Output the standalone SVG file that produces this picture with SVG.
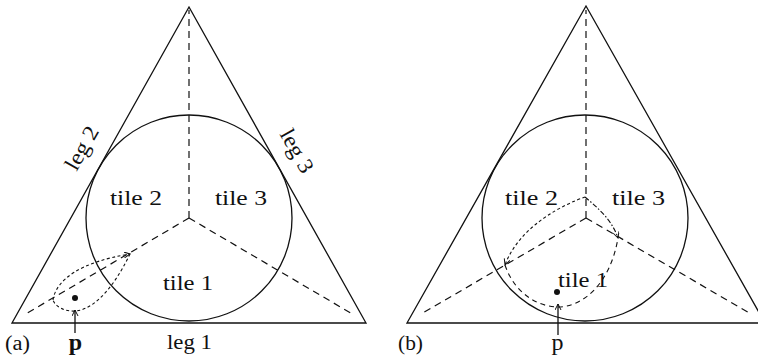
<svg xmlns="http://www.w3.org/2000/svg" width="758" height="363" viewBox="0 0 758 363">
<style>
.solid{fill:none;stroke:#111;stroke-width:1.3}
.rad{fill:none;stroke:#111;stroke-width:1.2;stroke-dasharray:7 5}
.fine{fill:none;stroke:#111;stroke-width:1.1;stroke-dasharray:3 2.5}
.dd{fill:none;stroke:#111;stroke-width:1.1;stroke-dasharray:5 2 1.5 2}
.med{fill:none;stroke:#111;stroke-width:1.1;stroke-dasharray:5 4}
.t{font-family:"Liberation Serif","Times New Roman",serif;font-size:22px;fill:#111}
.s{font-family:"Liberation Serif","Times New Roman",serif;font-size:20px;fill:#111}
.pb{font-family:"Liberation Serif","Times New Roman",serif;font-size:24px;font-weight:bold;fill:#111}
.pr{font-family:"Liberation Serif","Times New Roman",serif;font-size:24px;fill:#111}
</style>
<defs>
<marker id="arr" markerWidth="8" markerHeight="8" refX="6" refY="3" orient="auto" markerUnits="userSpaceOnUse">
<path d="M0,0 L6,3 L0,6" fill="none" stroke="#111" stroke-width="1"/>
</marker>
</defs>
<g id="panel-a">
<g id="a-triangle"><path class="solid" d="M12,323 L189,7 L366,323 Z"/></g>
<g id="a-circle"><circle class="solid" cx="189" cy="218" r="103"/></g>
<g id="a-tiles">
<path class="rad" d="M189,218 L189,10"/>
<path class="rad" d="M189,218 L24,315"/>
<path class="rad" d="M189,218 L354,315"/>
</g>
<g id="a-loop">
<path class="fine" d="M53,300 C56,280 80,262 130,254" marker-end="url(#arr)"/>
<path class="fine" d="M130,254 C120,275 100,308 76,311 C64,312 55,306 53,300"/>
</g>
<g id="a-p">
<circle cx="75" cy="298" r="3" fill="#111"/>
<path class="solid" d="M75,333 L75,310" marker-end="url(#arr)"/>
<text class="pb" x="75.5" y="350" text-anchor="middle">p</text>
</g>
<g id="a-labels">
<text class="t" x="136" y="205" text-anchor="middle" textLength="52" lengthAdjust="spacingAndGlyphs">tile 2</text>
<text class="t" x="241" y="205" text-anchor="middle" textLength="52" lengthAdjust="spacingAndGlyphs">tile 3</text>
<text class="t" x="188" y="290" text-anchor="middle" textLength="50" lengthAdjust="spacingAndGlyphs">tile 1</text>
<text class="t" x="189.5" y="349" text-anchor="middle" textLength="45" lengthAdjust="spacingAndGlyphs">leg 1</text>
<text class="t" transform="translate(88,151.5) rotate(-60.75)" text-anchor="middle" textLength="47" lengthAdjust="spacingAndGlyphs">leg 2</text>
<text class="t" transform="translate(290.7,154.5) rotate(60.75)" text-anchor="middle" textLength="47" lengthAdjust="spacingAndGlyphs">leg 3</text>
<text class="s" x="17.5" y="350" text-anchor="middle" textLength="25" lengthAdjust="spacingAndGlyphs">(a)</text>
</g>
</g>
<g id="panel-b">
<g id="b-triangle"><path class="solid" d="M407,323 L586,6 L765,323 Z"/></g>
<g id="b-circle"><circle class="solid" cx="585" cy="218" r="103"/></g>
<g id="b-tiles">
<path class="rad" d="M586,218 L586,10"/>
<path class="rad" d="M586,218 L421,314"/>
<path class="rad" d="M586,218 L751,314"/>
</g>
<g id="b-loop">
<path class="fine" d="M585,197 C565,204 520,225 505,265" marker-end="url(#arr)"/>
<path class="dd" d="M585,197 C598,208 612,220 618,238" marker-end="url(#arr)"/>
<path class="med" d="M505,265 C515,295 540,307 558,307 C582,307 610,285 618,238"/>
</g>
<g id="b-p">
<circle cx="557" cy="292" r="3" fill="#111"/>
<path class="solid" d="M558,335 L558,304" marker-end="url(#arr)"/>
<text class="pr" x="557.5" y="350" text-anchor="middle">p</text>
</g>
<g id="b-labels">
<text class="t" x="531.5" y="205" text-anchor="middle" textLength="53" lengthAdjust="spacingAndGlyphs">tile 2</text>
<text class="t" x="638.5" y="205" text-anchor="middle" textLength="53" lengthAdjust="spacingAndGlyphs">tile 3</text>
<text class="t" x="583" y="287" text-anchor="middle" textLength="50" lengthAdjust="spacingAndGlyphs">tile 1</text>
<text class="s" x="410.5" y="350" text-anchor="middle" textLength="25" lengthAdjust="spacingAndGlyphs">(b)</text>
</g>
</g>
</svg>
